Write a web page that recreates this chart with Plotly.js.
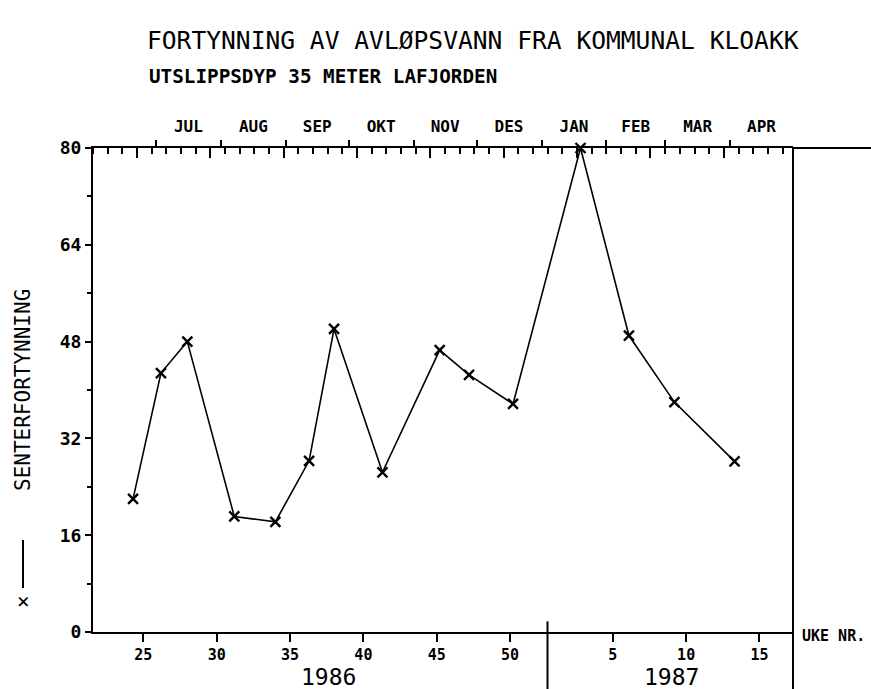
<!DOCTYPE html>
<html>
<head>
<meta charset="utf-8">
<script src="https://cdn.plot.ly/plotly-3.0.1.min.js"></script>
<style>
  html, body { margin: 0; padding: 0; background: #ffffff; }
  #chart { width: 871px; height: 689px; }
</style>
</head>
<body>
<div id="chart"></div>
<script>
// ---- data ----
const sampleYear = [1986, 1986, 1986, 1986, 1986, 1986, 1986, 1986, 1986, 1986, 1986, 1987, 1987, 1987, 1987];
const sampleWeek = [24.3, 26.2, 28.0, 31.2, 34.0, 36.3, 38.0, 41.3, 45.2, 47.2, 50.2, 2.8, 6.1, 9.2, 13.3];
const senterfortynning = [22.0, 42.8, 48.0, 19.1, 18.2, 28.3, 50.1, 26.4, 46.6, 42.5, 37.7, 80.0, 49.0, 38.0, 28.2];

// week tick labels on the bottom axis
const weekTicks1986 = [25, 30, 35, 40, 45, 50];
const weekTicks1987 = [5, 10, 15];

// months on the top axis (day 0 = 1 June 1986, last = 1 May 1987)
const monthNames = ['JUN', 'JUL', 'AUG', 'SEP', 'OKT', 'NOV', 'DES', 'JAN', 'FEB', 'MAR', 'APR'];
const monthLengths = [30, 31, 31, 30, 31, 30, 31, 31, 28, 31, 30];

const yTicks = [0, 16, 32, 48, 64, 80];
const yearLabels = ['1986', '1987'];

// ---- derived helpers ----
const WEEKS_1986 = 52;
const axisStartWeek = 21.57;           // week position of 1 June 1986
const yearBreakWeek = 52.55;           // 1986 / 1987 separator
const contWeek = sampleWeek.map((w, i) => sampleYear[i] === 1987 ? w + WEEKS_1986 : w);

const monthStarts = [0];
monthLengths.forEach(l => monthStarts.push(monthStarts[monthStarts.length - 1] + l));
const totalDays = monthStarts[monthStarts.length - 1];
const axisEndWeek = axisStartWeek + totalDays / 7;

const monthMid = [], monthLab = [];
for (let i = 1; i < monthNames.length; i++) {
  monthMid.push(monthStarts[i] + monthLengths[i] / 2);
  monthLab.push(monthNames[i]);
}
const weekDays = [];
for (let d = 0; d <= totalDays; d += 7) weekDays.push(d);
const longWeekDays = weekDays.filter(d => d % 35 === 21);
const shortWeekDays = weekDays.filter(d => d % 35 !== 21);

const bottomTickVals = weekTicks1986.concat(weekTicks1987.map(w => w + WEEKS_1986));
const bottomTickText = weekTicks1986.concat(weekTicks1987).map(String);

const MONO = '"DejaVu Sans Mono", "Liberation Mono", monospace';

const trace = {
  x: contWeek,
  y: senterfortynning,
  type: 'scatter',
  mode: 'lines+markers',
  line: { color: '#000', width: 1.6 },
  marker: { symbol: 'x-thin-open', size: 10, color: '#000', line: { color: '#000', width: 2.4 } },
  cliponaxis: false,
  hoverinfo: 'skip',
  showlegend: false
};
// invisible carriers so the two top (calendar) axes are drawn
const topCarrier2 = { x: [0, totalDays], y: [0, 0], xaxis: 'x2', yaxis: 'y', type: 'scatter', mode: 'markers',
  marker: { opacity: 0, size: 1 }, hoverinfo: 'skip', showlegend: false };
const topCarrier3 = { x: [0, totalDays], y: [0, 0], xaxis: 'x3', yaxis: 'y', type: 'scatter', mode: 'markers',
  marker: { opacity: 0, size: 1 }, hoverinfo: 'skip', showlegend: false };

const layout = {
  width: 871,
  height: 689,
  margin: { l: 93, r: 78, t: 148, b: 57, pad: 0 },
  paper_bgcolor: '#fff',
  plot_bgcolor: '#fff',
  showlegend: false,
  font: { family: MONO, color: '#000' },
  title: {
    text: 'FORTYNNING AV AVLØPSVANN FRA KOMMUNAL KLOAKK',
    xref: 'container', yref: 'container',
    x: 147 / 871, xanchor: 'left',
    y: 1 - 40 / 689, yanchor: 'middle',
    font: { family: MONO, size: 24.6, color: '#000' }
  },
  xaxis: {
    range: [axisStartWeek, axisEndWeek],
    tickmode: 'array',
    tickvals: bottomTickVals,
    ticktext: bottomTickText,
    ticks: 'outside', ticklen: 8, tickwidth: 2, tickcolor: '#000',
    tickfont: { family: MONO, size: 15, color: '#000', weight: 'bold' },
    showline: true, linecolor: '#000', linewidth: 2,
    showgrid: false, zeroline: false, fixedrange: true
  },
  xaxis2: {
    overlaying: 'x', side: 'top', anchor: 'y',
    range: [0, totalDays],
    tickmode: 'array', tickvals: monthMid, ticktext: monthLab,
    ticks: 'outside', ticklen: 8, tickcolor: 'rgba(0,0,0,0)',
    tickfont: { family: MONO, size: 16, color: '#000', weight: 'bold' },
    showline: true, linecolor: '#000', linewidth: 2,
    minor: { tickmode: 'array', tickvals: shortWeekDays, ticks: 'inside', ticklen: 6, tickwidth: 2, tickcolor: '#000', showgrid: false },
    showgrid: false, zeroline: false, fixedrange: true
  },
  xaxis3: {
    overlaying: 'x', side: 'top', anchor: 'y',
    range: [0, totalDays],
    tickmode: 'array', tickvals: monthStarts.slice(1, monthStarts.length - 1),
    ticks: 'outside', ticklen: 7, tickwidth: 2, tickcolor: '#000',
    showticklabels: false, showline: false,
    minor: { tickmode: 'array', tickvals: longWeekDays, ticks: 'inside', ticklen: 10, tickwidth: 2, tickcolor: '#000', showgrid: false },
    showgrid: false, zeroline: false, fixedrange: true
  },
  yaxis: {
    range: [0, 80],
    tickmode: 'array', tickvals: yTicks,
    ticks: 'outside', ticklen: 6, tickwidth: 2, tickcolor: '#000',
    minor: { dtick: 8, tick0: 0, ticks: 'outside', ticklen: 4, tickwidth: 2, tickcolor: '#000', showgrid: false },
    tickfont: { family: MONO, size: 18, color: '#000', weight: 'bold' },
    showline: true, linecolor: '#000', linewidth: 2,
    showgrid: false, zeroline: false, fixedrange: true
  },
  annotations: [
    {
      text: 'UTSLIPPSDYP 35 METER LAFJORDEN',
      xref: 'paper', yref: 'paper',
      x: (147 - 93) / 700, xanchor: 'left',
      y: 1 + (148 - 76) / 484, yanchor: 'middle',
      showarrow: false,
      font: { family: MONO, size: 19.3, color: '#000', weight: 'bold' }
    },
    {
      text: 'SENTERFORTYNNING',
      xref: 'paper', yref: 'paper',
      x: (23 - 93) / 700, xanchor: 'center',
      y: (632 - 390) / 484, yanchor: 'middle',
      textangle: -90, showarrow: false,
      font: { family: MONO, size: 21, color: '#000' }
    },
    {
      text: '×',
      xref: 'paper', yref: 'paper',
      x: (23 - 93) / 700, xanchor: 'center',
      y: (632 - 602) / 484, yanchor: 'middle',
      textangle: -90, showarrow: false,
      font: { family: MONO, size: 21, color: '#000' }
    },
    {
      text: yearLabels[0],
      xref: 'x', yref: 'paper',
      x: 37.6, xanchor: 'center',
      y: (632 - 677) / 484, yanchor: 'middle',
      showarrow: false,
      font: { family: MONO, size: 23, color: '#000' }
    },
    {
      text: yearLabels[1],
      xref: 'x', yref: 'paper',
      x: WEEKS_1986 + 9.0, xanchor: 'center',
      y: (632 - 677) / 484, yanchor: 'middle',
      showarrow: false,
      font: { family: MONO, size: 23, color: '#000' }
    },
    {
      text: 'UKE NR.',
      xref: 'paper', yref: 'paper',
      x: (800 - 93) / 700, xanchor: 'left',
      y: (632 - 636) / 484, yanchor: 'middle',
      showarrow: false,
      font: { family: MONO, size: 15, color: '#000', weight: 'bold' }
    }
  ],
  shapes: [
    // top line extending to the right edge
    { type: 'line', xref: 'paper', yref: 'paper', x0: 1, x1: 1.12, y0: 1, y1: 1, line: { color: '#000', width: 2 } },
    // right frame line running down past the axis
    { type: 'line', xref: 'paper', yref: 'paper', x0: 1, x1: 1, y0: 1, y1: -0.12, line: { color: '#000', width: 2 } },
    // year separator
    { type: 'line', xref: 'x', yref: 'paper', x0: yearBreakWeek, x1: yearBreakWeek, y0: 0.022, y1: -0.12, line: { color: '#000', width: 2 } },
    // legend line in the y label
    { type: 'line', xref: 'paper', yref: 'paper', x0: (23 - 93) / 700, x1: (23 - 93) / 700, y0: (632 - 588) / 484, y1: (632 - 540) / 484, line: { color: '#000', width: 2 } }
  ]
};

Plotly.newPlot('chart', [topCarrier2, topCarrier3, trace], layout, { displayModeBar: false, staticPlot: true });
</script>
</body>
</html>
